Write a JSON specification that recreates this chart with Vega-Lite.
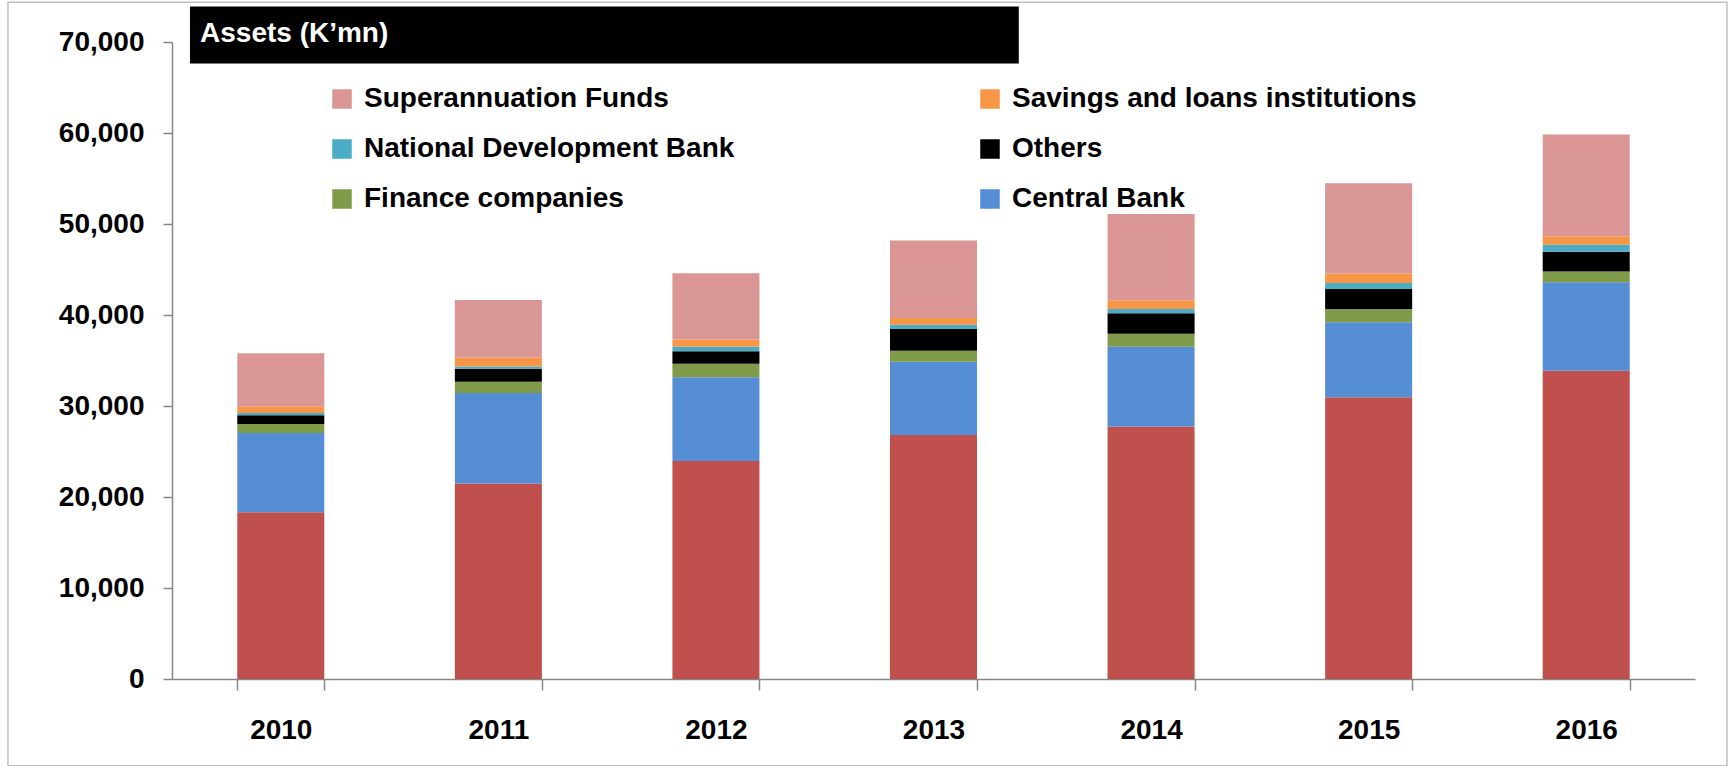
{
  "$schema": "https://vega.github.io/schema/vega-lite/v6.json",
  "width": 1523,
  "height": 637,
  "autosize": "none",
  "padding": {"left": 172, "top": 42, "right": 36, "bottom": 87},
  "background": "white",
  "config": {"view": {"stroke": null}, "font": "Liberation Sans"},
  "datasets": {
    "sectors": [
      {"sector": "Commercial Banks", "stackRank": 1},
      {"sector": "Central Bank", "stackRank": 2},
      {"sector": "Finance companies", "stackRank": 3},
      {"sector": "Others", "stackRank": 4},
      {"sector": "National Development Bank", "stackRank": 5},
      {"sector": "Savings and loans institutions", "stackRank": 6},
      {"sector": "Superannuation Funds", "stackRank": 7}
    ]
  },
  "layer": [
    {
      "data": {
        "values": [
          {"year": "2010", "sector": "Commercial Banks", "value": 18320},
          {"year": "2010", "sector": "Central Bank", "value": 8710},
          {"year": "2010", "sector": "Finance companies", "value": 990},
          {"year": "2010", "sector": "Others", "value": 950},
          {"year": "2010", "sector": "National Development Bank", "value": 260},
          {"year": "2010", "sector": "Savings and loans institutions", "value": 730},
          {"year": "2010", "sector": "Superannuation Funds", "value": 5850},
          {"year": "2011", "sector": "Commercial Banks", "value": 21480},
          {"year": "2011", "sector": "Central Bank", "value": 9960},
          {"year": "2011", "sector": "Finance companies", "value": 1215},
          {"year": "2011", "sector": "Others", "value": 1435},
          {"year": "2011", "sector": "National Development Bank", "value": 255},
          {"year": "2011", "sector": "Savings and loans institutions", "value": 990},
          {"year": "2011", "sector": "Superannuation Funds", "value": 6320},
          {"year": "2012", "sector": "Commercial Banks", "value": 23950},
          {"year": "2012", "sector": "Central Bank", "value": 9215},
          {"year": "2012", "sector": "Finance companies", "value": 1475},
          {"year": "2012", "sector": "Others", "value": 1390},
          {"year": "2012", "sector": "National Development Bank", "value": 485},
          {"year": "2012", "sector": "Savings and loans institutions", "value": 805},
          {"year": "2012", "sector": "Superannuation Funds", "value": 7280},
          {"year": "2013", "sector": "Commercial Banks", "value": 26810},
          {"year": "2013", "sector": "Central Bank", "value": 8050},
          {"year": "2013", "sector": "Finance companies", "value": 1215},
          {"year": "2013", "sector": "Others", "value": 2380},
          {"year": "2013", "sector": "National Development Bank", "value": 485},
          {"year": "2013", "sector": "Savings and loans institutions", "value": 730},
          {"year": "2013", "sector": "Superannuation Funds", "value": 8530},
          {"year": "2014", "sector": "Commercial Banks", "value": 27760},
          {"year": "2014", "sector": "Central Bank", "value": 8755},
          {"year": "2014", "sector": "Finance companies", "value": 1435},
          {"year": "2014", "sector": "Others", "value": 2235},
          {"year": "2014", "sector": "National Development Bank", "value": 475},
          {"year": "2014", "sector": "Savings and loans institutions", "value": 960},
          {"year": "2014", "sector": "Superannuation Funds", "value": 9480},
          {"year": "2015", "sector": "Commercial Banks", "value": 30960},
          {"year": "2015", "sector": "Central Bank", "value": 8235},
          {"year": "2015", "sector": "Finance companies", "value": 1465},
          {"year": "2015", "sector": "Others", "value": 2205},
          {"year": "2015", "sector": "National Development Bank", "value": 665},
          {"year": "2015", "sector": "Savings and loans institutions", "value": 1035},
          {"year": "2015", "sector": "Superannuation Funds", "value": 9920},
          {"year": "2016", "sector": "Commercial Banks", "value": 33870},
          {"year": "2016", "sector": "Central Bank", "value": 9735},
          {"year": "2016", "sector": "Finance companies", "value": 1180},
          {"year": "2016", "sector": "Others", "value": 2160},
          {"year": "2016", "sector": "National Development Bank", "value": 775},
          {"year": "2016", "sector": "Savings and loans institutions", "value": 925},
          {"year": "2016", "sector": "Superannuation Funds", "value": 11200}
        ]
      },
      "transform": [
        {"lookup": "sector", "from": {"data": {"name": "sectors"}, "key": "sector", "fields": ["stackRank"]}}
      ],
      "mark": {"type": "bar"},
      "encoding": {
        "x": {
          "field": "year",
          "type": "nominal",
          "scale": {"paddingInner": 0.6, "paddingOuter": 0.3},
          "axis": {
            "title": null,
            "labelAngle": 0,
            "labelFont": "Liberation Sans",
            "labelFontSize": 28,
            "labelFontWeight": "bold",
            "labelColor": "black",
            "domainColor": "#868686",
            "domainWidth": 1.5,
            "tickColor": "#868686",
            "tickWidth": 1.5,
            "tickSize": 11,
            "tickBand": "extent",
            "labelPadding": 26,
            "grid": false
          }
        },
        "y": {
          "field": "value",
          "type": "quantitative",
          "stack": "zero",
          "scale": {"domain": [0, 70000], "nice": false},
          "axis": {
            "title": null,
            "values": [0, 10000, 20000, 30000, 40000, 50000, 60000, 70000],
            "format": ",.0f",
            "labelFont": "Liberation Sans",
            "labelFontSize": 28,
            "labelFontWeight": "bold",
            "labelColor": "black",
            "domainColor": "#868686",
            "domainWidth": 1.5,
            "tickColor": "#868686",
            "tickWidth": 1.5,
            "tickSize": 9,
            "labelPadding": 19,
            "grid": false
          }
        },
        "order": {"field": "stackRank", "type": "quantitative", "sort": "ascending"},
        "color": {
          "field": "sector",
          "type": "nominal",
          "scale": {
            "domain": ["Commercial Banks", "Central Bank", "Finance companies", "Others", "National Development Bank", "Savings and loans institutions", "Superannuation Funds"],
            "range": ["#C0504D", "#558ED5", "#7F9A48", "#000000", "#4BACC6", "#F79646", "#D99694"]
          },
          "legend": {
            "title": null,
            "orient": "none",
            "legendX": 156,
            "legendY": 43,
            "columns": 2,
            "values": ["Superannuation Funds", "National Development Bank", "Finance companies", "Savings and loans institutions", "Others", "Central Bank"],
            "symbolType": "square",
            "symbolSize": 380,
            "symbolStrokeWidth": 0,
            "labelFont": "Liberation Sans",
            "labelFontSize": 28,
            "labelFontWeight": "bold",
            "labelColor": "black",
            "labelLimit": 0,
            "labelOffset": 8,
            "columnPadding": 241,
            "rowPadding": 22
          }
        }
      }
    },
    {
      "data": {"values": [{"label": "Assets (K’mn)"}]},
      "layer": [
        {
          "mark": {"type": "rect", "fill": null, "filled": false, "stroke": "#BFBFBF", "strokeWidth": 1.5},
          "encoding": {
            "x": {"datum": -0.1077, "type": "quantitative", "scale": {"domain": [0, 1], "nice": false, "zero": false}, "axis": null},
            "x2": {"datum": 1.021},
            "y": {"datum": 74366, "type": "quantitative", "scale": {"domain": [0, 70000], "nice": false}, "axis": null},
            "y2": {"datum": -9537}
          }
        },
        {
          "mark": {"type": "rect", "color": "black"},
          "encoding": {
            "x": {"datum": 0.0118, "type": "quantitative", "scale": {"domain": [0, 1], "nice": false, "zero": false}, "axis": null},
            "x2": {"datum": 0.556},
            "y": {"datum": 73890, "type": "quantitative", "scale": {"domain": [0, 70000], "nice": false}, "axis": null},
            "y2": {"datum": 67640}
          }
        },
        {
          "mark": {"type": "text", "color": "white", "font": "Liberation Sans", "fontSize": 28, "fontWeight": "bold", "align": "left", "baseline": "middle"},
          "encoding": {
            "x": {"datum": 0.0184, "type": "quantitative", "scale": {"domain": [0, 1], "nice": false, "zero": false}, "axis": null},
            "y": {"datum": 70838, "type": "quantitative", "scale": {"domain": [0, 70000], "nice": false}, "axis": null},
            "text": {"field": "label"}
          }
        }
      ]
    }
  ],
  "resolve": {"scale": {"x": "independent", "y": "independent"}}
}
